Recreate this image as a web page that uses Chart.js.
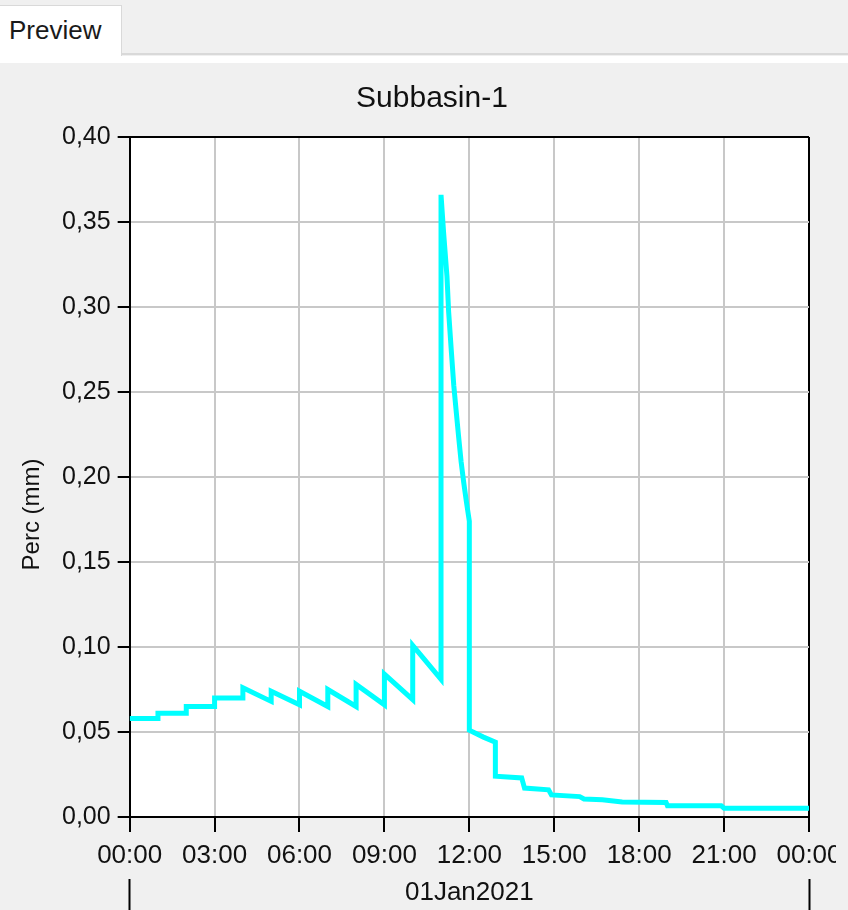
<!DOCTYPE html>
<html>
<head>
<meta charset="utf-8">
<title>Subbasin-1</title>
<script src="https://cdn.jsdelivr.net/npm/chart.js"></script>
<style>
  body { margin: 0; background: #f0f0f0; width: 848px; height: 910px; overflow: hidden; position: relative; font-family: "Liberation Sans", Arial, sans-serif; }
  .tab { position: absolute; left: 0; top: 5px; width: 122px; height: 52px; background: #fff; border-top: 1px solid #d9d9d9; border-right: 1px solid #d9d9d9; box-sizing: border-box; }
  .tab span { position: absolute; left: 9px; top: 9px; font-size: 26px; color: #1a1a1a; }
  .tabline { position: absolute; left: 122px; right: 0; top: 53px; height: 2px; background: #d9d9d9; }
  .strip { position: absolute; left: 0; right: 0; top: 56px; height: 7px; background: #fff; }
  .plot { position: absolute; left: 0; top: 63px; width: 836px; height: 847px; overflow: hidden; }
</style>
</head>
<body>
<div class="tab"><span>Preview</span></div>
<div class="tabline"></div>
<div class="strip"></div>
<div class="plot"><canvas id="perc" width="892" height="847"></canvas></div>

<script>
// time in hours after 00:00 01Jan2021, value in mm (steps repeat the hour)
const times = [
  0, 1, 1, 2, 2, 3, 3, 4, 4, 5, 5, 6, 6, 7, 7, 8, 8, 9, 9, 10, 10, 11,
  11, 11.09, 11.21, 11.27, 11.36, 11.45, 11.54, 11.62, 11.71, 11.8, 11.9, 12,
  12, 12.5, 12.92, 12.92, 13.85, 13.95, 14.8, 14.9, 15.9, 16.05, 16.7, 17.4,
  18.95, 19, 20.9, 21, 24
];
const perc = [
  0.058, 0.058, 0.061, 0.061, 0.065, 0.065, 0.070, 0.070, 0.076, 0.068, 0.074, 0.066,
  0.074, 0.065, 0.075, 0.065, 0.078, 0.066, 0.084, 0.069, 0.101, 0.081,
  0.366, 0.344, 0.318, 0.297, 0.275, 0.254, 0.238, 0.224, 0.209, 0.197, 0.185, 0.174,
  0.051, 0.047, 0.044, 0.024, 0.023, 0.017, 0.016, 0.013, 0.012, 0.0106, 0.0102, 0.0088,
  0.0086, 0.0066, 0.0066, 0.0052, 0.0051
];

const hourTicks = [0, 3, 6, 9, 12, 15, 18, 21, 24];
const hourLabels = ['00:00', '03:00', '06:00', '09:00', '12:00', '15:00', '18:00', '21:00', '00:00'];
const dayTicks = [0, 12, 24];
const dayLabels = ['', '01Jan2021', ''];

const font = 'Liberation Sans, Arial, sans-serif';
const ink = '#111';

// white plot background + rotated y title placed off-centre like the original
const plotDecor = {
  id: 'plotDecor',
  beforeDraw(chart) {
    const a = chart.chartArea, ctx = chart.ctx;
    ctx.save();
    ctx.fillStyle = '#fff';
    ctx.fillRect(a.left, a.top, a.right - a.left, a.bottom - a.top);
    ctx.restore();
  },
  afterDraw(chart) {
    const ctx = chart.ctx;
    const y = chart.scales.y.getPixelForValue(0.178);
    ctx.save();
    ctx.translate(32, y);
    ctx.rotate(-Math.PI / 2);
    ctx.font = '24px ' + font;
    ctx.fillStyle = ink;
    ctx.textAlign = 'center';
    ctx.textBaseline = 'middle';
    ctx.fillText('Perc (mm)', 0, 0);
    ctx.restore();
  }
};

new Chart(document.getElementById('perc'), {
  type: 'line',
  data: {
    datasets: [{
      data: times.map((t, i) => ({ x: t, y: perc[i] })),
      borderColor: '#00ffff',
      borderWidth: 5,
      pointRadius: 0,
      tension: 0,
      fill: false
    }]
  },
  plugins: [plotDecor],
  options: {
    responsive: false,
    animation: false,
    devicePixelRatio: 1,
    layout: { padding: { left: 55, right: 83, top: 0, bottom: 30 } },
    plugins: {
      legend: { display: false },
      tooltip: { enabled: false },
      title: {
        display: true,
        text: 'Subbasin-1',
        color: ink,
        font: { family: font, size: 30, weight: 'normal' },
        padding: { top: 18, bottom: 20 }
      }
    },
    scales: {
      x: {
        type: 'linear',
        position: 'bottom',
        min: 0,
        max: 24,
        afterBuildTicks: s => { s.ticks = hourTicks.map(v => ({ value: v })); },
        ticks: {
          autoSkip: false,
          maxRotation: 0,
          padding: 8,
          color: ink,
          font: { family: font, size: 26 },
          callback: (v, i) => hourLabels[i]
        },
        grid: {
          color: c => (c.tick && c.tick.value === 24) ? '#000' : '#c8c8c8',
          lineWidth: 2,
          tickColor: '#000',
          tickWidth: 2,
          tickLength: 15
        },
        border: { color: '#000', width: 2 }
      },
      x2: {
        type: 'linear',
        position: 'bottom',
        min: 0,
        max: 24,
        afterBuildTicks: s => { s.ticks = dayTicks.map(v => ({ value: v })); },
        ticks: {
          autoSkip: false,
          maxRotation: 0,
          mirror: true,
          padding: -29.6,
          color: ink,
          font: { family: font, size: 26 },
          callback: (v, i) => dayLabels[i]
        },
        grid: {
          drawOnChartArea: false,
          tickLength: 60,
          tickWidth: 2,
          tickColor: c => (c.tick && c.tick.value === 12) ? 'rgba(0,0,0,0)' : '#000'
        },
        border: { display: false }
      },
      y: {
        min: 0,
        max: 0.4,
        ticks: {
          stepSize: 0.05,
          padding: 7,
          color: ink,
          font: { family: font, size: 25 },
          callback: v => v.toFixed(2).replace('.', ',')
        },
        grid: {
          color: c => (c.tick && Math.abs(c.tick.value - 0.4) < 1e-9) ? '#000' : '#c8c8c8',
          lineWidth: 2,
          tickColor: '#000',
          tickWidth: 2,
          tickLength: 12
        },
        border: { color: '#000', width: 2 }
      }
    }
  }
});
</script>
</body>
</html>
